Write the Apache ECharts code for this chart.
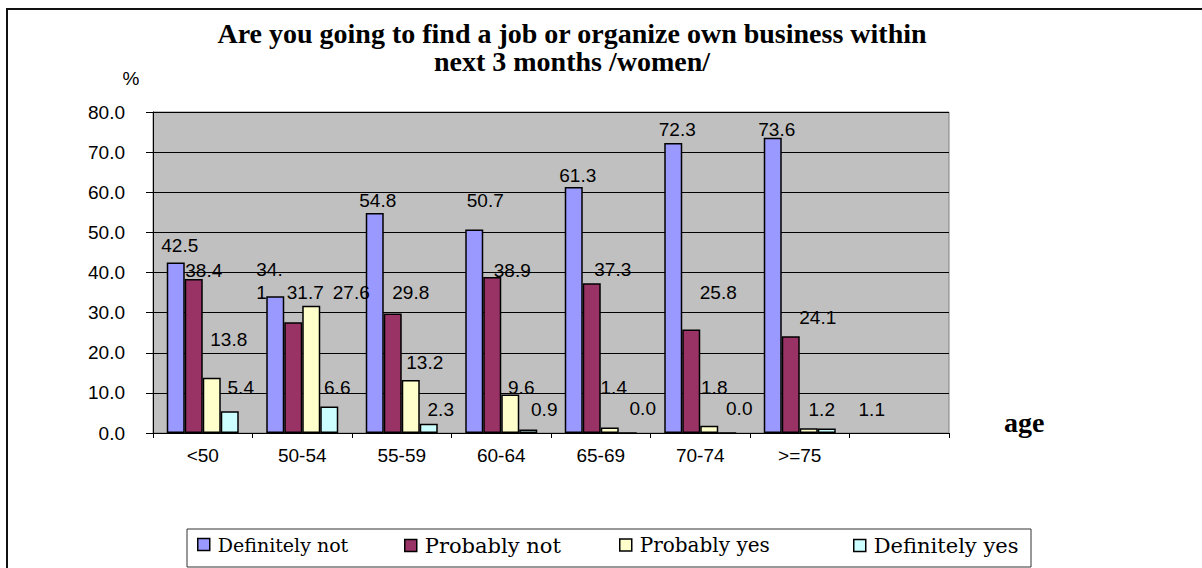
<!DOCTYPE html>
<html>
<head>
<meta charset="utf-8">
<script src="https://cdn.jsdelivr.net/npm/echarts@6/dist/echarts.min.js"></script>
<style>
html,body{margin:0;padding:0;background:#fff;}
#c{width:1202px;height:568px;}
</style>
</head>
<body>
<div id="c"></div>
<script>
// ---- data ----
const categories = ['<50', '50-54', '55-59', '60-64', '65-69', '70-74', '>=75', ''];
const seriesNames = ['Definitely not', 'Probably not', 'Probably yes', 'Definitely yes'];
const definitelyNot = [42.5, 34.1, 54.8, 50.7, 61.3, 72.3, 73.6];
const probablyNot = [38.4, 27.6, 29.8, 38.9, 37.3, 25.8, 24.1];
const probablyYes = [13.8, 31.7, 13.2, 9.6, 1.4, 1.8, 1.2];
const definitelyYes = [5.4, 6.6, 2.3, 0.9, 0.0, 0.0, 1.1];
const yTicks = { min: 0, max: 80, step: 10 };
const titleLines = ['Are you going to find a job or organize own business within', 'next 3 months /women/'];

// ---- styles / layout ----
const colors = ['#9999ff', '#993366', '#ffffcc', '#ccffff'];
// label nudges (pixels) relative to the default "top" placement, per series and category
const labelNudges = [
  [[4, -3], [-19, 12], [3, 1], [11, -16], [4, 2], [4, 0], [4, 5]],
  [[10, 5], [58, -16], [18, -7], [20, 7], [21, 0], [27, -23], [27, -5]],
  [[17, -25], [-6, 0], [14, -4], [11, 7], [4, -26], [5, -25], [13, -5]],
  [[11, -10], [8, -6], [12, -1], [16, -6], [15, -10], [12, -10], [45, -6]]
];
// the one label that the original wraps onto two lines
const wrappedLabel = { series: 0, index: 1, width: 28, lineHeight: 23 };
const legendLeft = [197, 404, 619, 853];
const legendFont = [19, 21, 20, 21];
const sans = '"Liberation Sans", Arial, sans-serif';
const serif = '"Liberation Serif", "Times New Roman", serif';
const legSerif = '"DejaVu Serif", serif';

const values = [definitelyNot, probablyNot, probablyYes, definitelyYes];

const chart = echarts.init(document.getElementById('c'), null, { renderer: 'svg' });

const series = values.map((vals, i) => ({
  name: seriesNames[i],
  type: 'bar',
  data: vals.map((v, k) => {
    const lab = { offset: labelNudges[i][k] };
    if (wrappedLabel.series === i && wrappedLabel.index === k) {
      lab.width = wrappedLabel.width;
      lab.overflow = 'breakAll';
      lab.align = 'left';
      lab.lineHeight = wrappedLabel.lineHeight;
    }
    return { value: v, label: lab };
  }),
  barWidth: 18,
  barGap: '0%',
  itemStyle: { color: colors[i], borderColor: '#000', borderWidth: 1.5 },
  label: {
    show: true,
    position: 'top',
    distance: 4,
    formatter: p => Number(p.value).toFixed(1),
    color: '#000',
    fontFamily: sans,
    fontSize: 19
  },
  emphasis: { disabled: true },
  animation: false
}));

const legends = seriesNames.map((n, i) => ({
  data: [n],
  left: legendLeft[i],
  top: 535,
  padding: 0,
  itemWidth: 12,
  itemHeight: 12,
  icon: 'rect',
  itemStyle: { borderColor: '#000', borderWidth: 1.5 },
  textStyle: { fontFamily: legSerif, fontSize: legendFont[i], color: '#000', padding: [0, 0, 0, 3] },
  selectedMode: false
}));

chart.setOption({
  animation: false,
  backgroundColor: '#fff',
  title: {
    text: titleLines.join('\n'),
    left: 567,
    top: 14,
    textAlign: 'center',
    textStyle: { fontFamily: serif, fontWeight: 'bold', fontSize: 28, lineHeight: 28, color: '#000' }
  },
  legend: legends,
  grid: {
    left: 153, top: 112, width: 796, height: 321,
    show: true, backgroundColor: '#c0c0c0', borderColor: '#808080', borderWidth: 1,
    containLabel: false
  },
  xAxis: {
    type: 'category',
    data: categories,
    name: 'age',
    nameLocation: 'end',
    nameGap: 55,
    nameTextStyle: { fontFamily: serif, fontWeight: 'bold', fontSize: 28, lineHeight: 22, color: '#000', verticalAlign: 'bottom' },
    axisLine: { show: true, lineStyle: { color: '#000', width: 1 } },
    axisTick: { show: true, length: 5, alignWithLabel: false, lineStyle: { color: '#000' } },
    axisLabel: { color: '#000', fontFamily: sans, fontSize: 19, margin: 13, interval: 0 },
    splitLine: { show: false }
  },
  yAxis: {
    type: 'value',
    min: yTicks.min, max: yTicks.max, interval: yTicks.step,
    name: '%',
    nameLocation: 'end',
    nameGap: 24,
    nameTextStyle: { fontFamily: sans, fontSize: 19, color: '#000', padding: [0, 44, 0, 0] },
    axisLine: { show: true, lineStyle: { color: '#000', width: 1 } },
    axisTick: { show: true, length: 7, inside: false, lineStyle: { color: '#000' } },
    axisLabel: { color: '#000', fontFamily: sans, fontSize: 19, margin: 28, formatter: v => v.toFixed(1) },
    splitLine: { show: true, lineStyle: { color: '#000', width: 1 } }
  },
  graphic: [
    { type: 'rect', shape: { x: 7, y: 9, width: 1220, height: 600 }, style: { fill: 'none', stroke: '#111', lineWidth: 2 }, silent: true, z: 100 },
    { type: 'rect', shape: { x: 187, y: 529, width: 844, height: 38 }, style: { fill: 'none', stroke: '#333', lineWidth: 1 }, silent: true, z: 100 }
  ],
  series: series
});
</script>
</body>
</html>
